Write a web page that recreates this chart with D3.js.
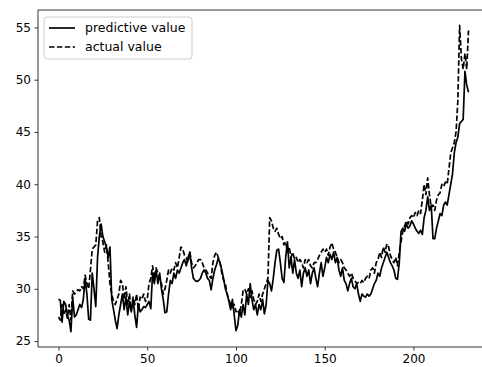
<!DOCTYPE html>
<html>
<head>
<meta charset="utf-8">
<script src="https://cdn.jsdelivr.net/npm/d3@7"></script>
<style>
  body { margin: 0; background: #fff; }
  svg { display: block; font-family: "DejaVu Sans", sans-serif; }
</style>
</head>
<body>
<div id="chart"></div>
<script>
// series values, index 0..231
const actualValues = [
  27.3, 27.0, 28.5, 27.5, 28.0, 27.2, 28.5, 27.0, 29.8, 29.5,
  29.8, 29.9, 29.8, 30.2, 30.0, 31.3, 30.5, 30.0, 31.8, 33.8,
  34.0, 34.2, 36.5, 36.8, 35.0, 34.5, 33.5, 34.2, 32.5, 30.5,
  29.5, 28.8, 28.5, 29.0, 29.5, 30.8, 30.5, 29.0, 30.2, 28.5,
  29.5, 28.0, 29.2, 28.5, 29.5, 28.0, 29.2, 29.0, 29.5, 28.8,
  29.0, 30.5, 31.0, 32.2, 31.0, 32.0, 31.5, 31.0, 30.5, 29.5,
  30.0, 30.8, 31.8, 31.5, 32.0, 31.8, 32.5, 32.0, 33.0, 34.0,
  33.8, 33.2, 33.0, 32.5, 33.5, 32.5, 32.0, 32.2, 32.5, 32.8,
  32.8, 32.5, 32.0, 31.8, 31.5, 31.2, 31.0, 32.5, 33.2, 33.5,
  33.0, 32.5, 31.5, 30.8, 30.5, 29.5, 29.0, 28.5, 28.2, 28.5,
  27.8, 28.0, 27.5, 28.5, 29.8, 30.0, 29.5, 30.0, 29.2, 29.8,
  29.0, 28.5, 28.8, 29.5, 28.8, 29.5, 30.0, 30.5, 31.0, 36.8,
  36.5, 35.8, 35.5, 35.8, 35.2, 34.8, 35.0, 34.2, 34.5, 33.5,
  34.0, 33.0, 33.5, 32.8, 33.0, 32.5, 32.8, 32.5, 32.0, 32.8,
  32.5, 32.8, 32.2, 32.0, 32.5, 32.5, 32.8, 33.2, 33.5, 33.8,
  33.5, 33.8, 33.2, 34.0, 34.4, 33.8, 33.5, 33.0, 32.5, 32.8,
  32.5, 32.0, 31.8, 31.5, 31.2, 31.5, 31.0, 30.8, 30.5, 30.6,
  30.5, 30.8, 30.6, 31.0, 31.2, 31.0, 31.8, 32.0, 31.5, 32.5,
  32.8, 33.5, 33.0, 34.0, 33.5, 34.3, 34.0, 33.2, 32.8, 32.5,
  33.0, 32.2, 33.5, 34.5, 35.5, 36.0, 36.5, 36.2, 36.8, 37.0,
  36.8, 37.3, 37.0, 37.5, 37.2, 38.5, 40.0, 39.0, 40.6, 39.0,
  37.8, 38.0, 37.5, 38.5, 39.0, 39.2, 40.0, 39.8, 40.2, 40.0,
  41.5, 43.0, 43.5, 44.0, 45.0, 48.0, 55.2, 52.0, 51.0, 52.5,
  51.0, 54.7
];

const predictiveValues = [
  29.0, 28.9, 26.8, 28.8, 28.5, 27.5, 27.0, 25.9, 29.2, 27.3,
  27.5, 28.0, 28.5, 28.2, 29.0, 31.0, 29.5, 27.1, 27.0, 31.5,
  30.0, 28.3, 33.0, 35.0, 36.2, 35.0, 34.5, 34.0, 33.0, 34.0,
  29.0, 28.0, 27.0, 26.2, 27.5, 28.5, 29.5, 28.0, 29.2, 27.5,
  28.8, 27.8, 29.0, 27.5, 26.3, 28.5, 27.8, 28.0, 28.3, 28.2,
  28.5, 28.8, 28.1, 31.5, 30.5, 31.8, 30.5, 31.5, 30.0, 29.0,
  27.7, 27.8, 29.5, 30.8, 30.5, 31.5, 31.0, 31.8, 31.5, 32.0,
  32.5, 32.8, 32.2, 33.0, 33.5, 32.0, 31.0, 30.8, 30.7, 30.8,
  31.0, 31.5, 31.8, 31.5, 31.0, 30.8, 29.9, 31.0, 31.8, 32.3,
  32.9, 32.5, 31.8, 31.0, 30.0, 29.5, 28.8, 28.0, 29.0, 27.5,
  26.0, 26.5, 28.0, 27.3, 28.5, 27.5, 29.5, 28.5, 30.5, 29.0,
  28.0, 28.5, 27.5, 28.5, 28.0, 29.0, 27.6, 28.5, 30.8, 30.5,
  29.8, 31.0, 32.5, 33.7, 33.8, 32.5, 31.0, 30.6, 33.0, 34.5,
  32.0, 33.0, 31.5, 32.8, 31.5, 31.0, 31.8, 30.2, 31.5, 32.0,
  31.2, 31.8, 30.5, 31.5, 32.0, 31.0, 30.2, 31.5, 32.5, 31.2,
  32.0, 33.0, 32.5, 33.3, 32.8, 33.5, 32.5, 33.0, 31.8, 31.2,
  32.0, 30.8, 30.5, 29.8, 30.5, 31.0, 30.2, 30.0, 30.5, 29.5,
  28.8, 29.5, 29.3, 29.2, 29.5, 29.3, 29.5, 30.0, 30.5, 30.8,
  31.5, 31.2, 32.0, 32.5, 33.0, 33.5, 33.0, 32.5, 32.2, 31.8,
  31.0, 30.9, 32.5, 35.5, 35.8, 35.5, 36.2, 35.8, 36.0, 36.5,
  36.2, 35.8, 35.5, 35.3, 35.6, 35.2, 36.8, 37.5, 38.8, 37.5,
  38.0, 34.8, 34.8, 35.8, 36.5, 37.2, 37.0, 38.0, 38.3, 38.0,
  39.0, 40.0, 41.0, 43.0, 44.0, 44.5, 45.8, 46.0, 46.2, 50.8,
  49.5, 48.8
];

const xTicks = [0, 50, 100, 150, 200];
const yTicks = [25, 30, 35, 40, 45, 50, 55];
const seriesNames = ['predictive value', 'actual value'];

const W = 482, H = 367;
const margin = {top: 10, left: 38, bottom: 20};
const n = actualValues.length;

const svg = d3.select('#chart').append('svg')
  .attr('width', W)
  .attr('height', H);

// x range runs a bit past the right edge, the picture is cropped there
const x = d3.scaleLinear()
  .domain([-(n - 1) * 0.05, (n - 1) * 1.05])
  .range([margin.left, 489]);

const allVals = actualValues.concat(predictiveValues);
const yMin = d3.min(allVals), yMax = d3.max(allVals);
const pad = (yMax - yMin) * 0.05;
const y = d3.scaleLinear()
  .domain([yMin - pad, yMax + pad])
  .range([H - margin.bottom, margin.top]);

const line = d3.line()
  .x((d, i) => x(i))
  .y(d => y(d));

const lw = 1.7;
const dash = '5.5,2.4';

// lines
svg.append('path')
  .datum(predictiveValues)
  .attr('d', line)
  .attr('fill', 'none')
  .attr('stroke', '#000')
  .attr('stroke-width', lw)
  .attr('stroke-linejoin', 'round');

svg.append('path')
  .datum(actualValues)
  .attr('d', line)
  .attr('fill', 'none')
  .attr('stroke', '#000')
  .attr('stroke-width', lw)
  .attr('stroke-dasharray', dash)
  .attr('stroke-linejoin', 'round');

// axes
const xAxis = d3.axisBottom(x)
  .tickValues(xTicks)
  .tickSizeOuter(0)
  .tickSize(3.5)
  .tickPadding(3.5);

const yAxis = d3.axisLeft(y)
  .tickValues(yTicks)
  .tickSizeOuter(0)
  .tickSize(3.5)
  .tickPadding(3.5);

const gx = svg.append('g')
  .attr('transform', 'translate(0,' + (H - margin.bottom) + ')')
  .call(xAxis);

const gy = svg.append('g')
  .attr('transform', 'translate(' + margin.left + ',0)')
  .call(yAxis);

[gx, gy].forEach(g => {
  g.select('.domain').remove();
  g.selectAll('line').attr('stroke', '#000').attr('stroke-width', 0.8);
  g.selectAll('text')
    .attr('fill', '#000')
    .style('font-size', '12px')
    .style('font-family', '"DejaVu Sans", sans-serif');
});

// spines
svg.append('line')
  .attr('x1', margin.left).attr('x2', W)
  .attr('y1', margin.top).attr('y2', margin.top)
  .attr('stroke', '#000').attr('stroke-width', 0.8);
svg.append('line')
  .attr('x1', margin.left).attr('x2', W)
  .attr('y1', H - margin.bottom).attr('y2', H - margin.bottom)
  .attr('stroke', '#000').attr('stroke-width', 0.8);
svg.append('line')
  .attr('x1', margin.left).attr('x2', margin.left)
  .attr('y1', margin.top).attr('y2', H - margin.bottom)
  .attr('stroke', '#000').attr('stroke-width', 0.8);

// legend
const legend = svg.append('g').attr('transform', 'translate(44,17)');
legend.append('rect')
  .attr('width', 148)
  .attr('height', 42)
  .attr('rx', 3)
  .attr('fill', '#fff')
  .attr('fill-opacity', 0.8)
  .attr('stroke', '#ccc')
  .attr('stroke-width', 1);

const items = legend.selectAll('g.item')
  .data(seriesNames)
  .enter().append('g')
    .attr('class', 'item')
    .attr('transform', (d, i) => 'translate(0,' + (11 + i * 19) + ')');

items.append('line')
  .attr('x1', 5).attr('x2', 31)
  .attr('stroke', '#000')
  .attr('stroke-width', lw)
  .attr('stroke-dasharray', (d, i) => i === 1 ? dash : null);

items.append('text')
  .attr('x', 41)
  .attr('dy', '0.35em')
  .style('font-size', '12.5px')
  .text(d => d);
</script>
</body>
</html>
